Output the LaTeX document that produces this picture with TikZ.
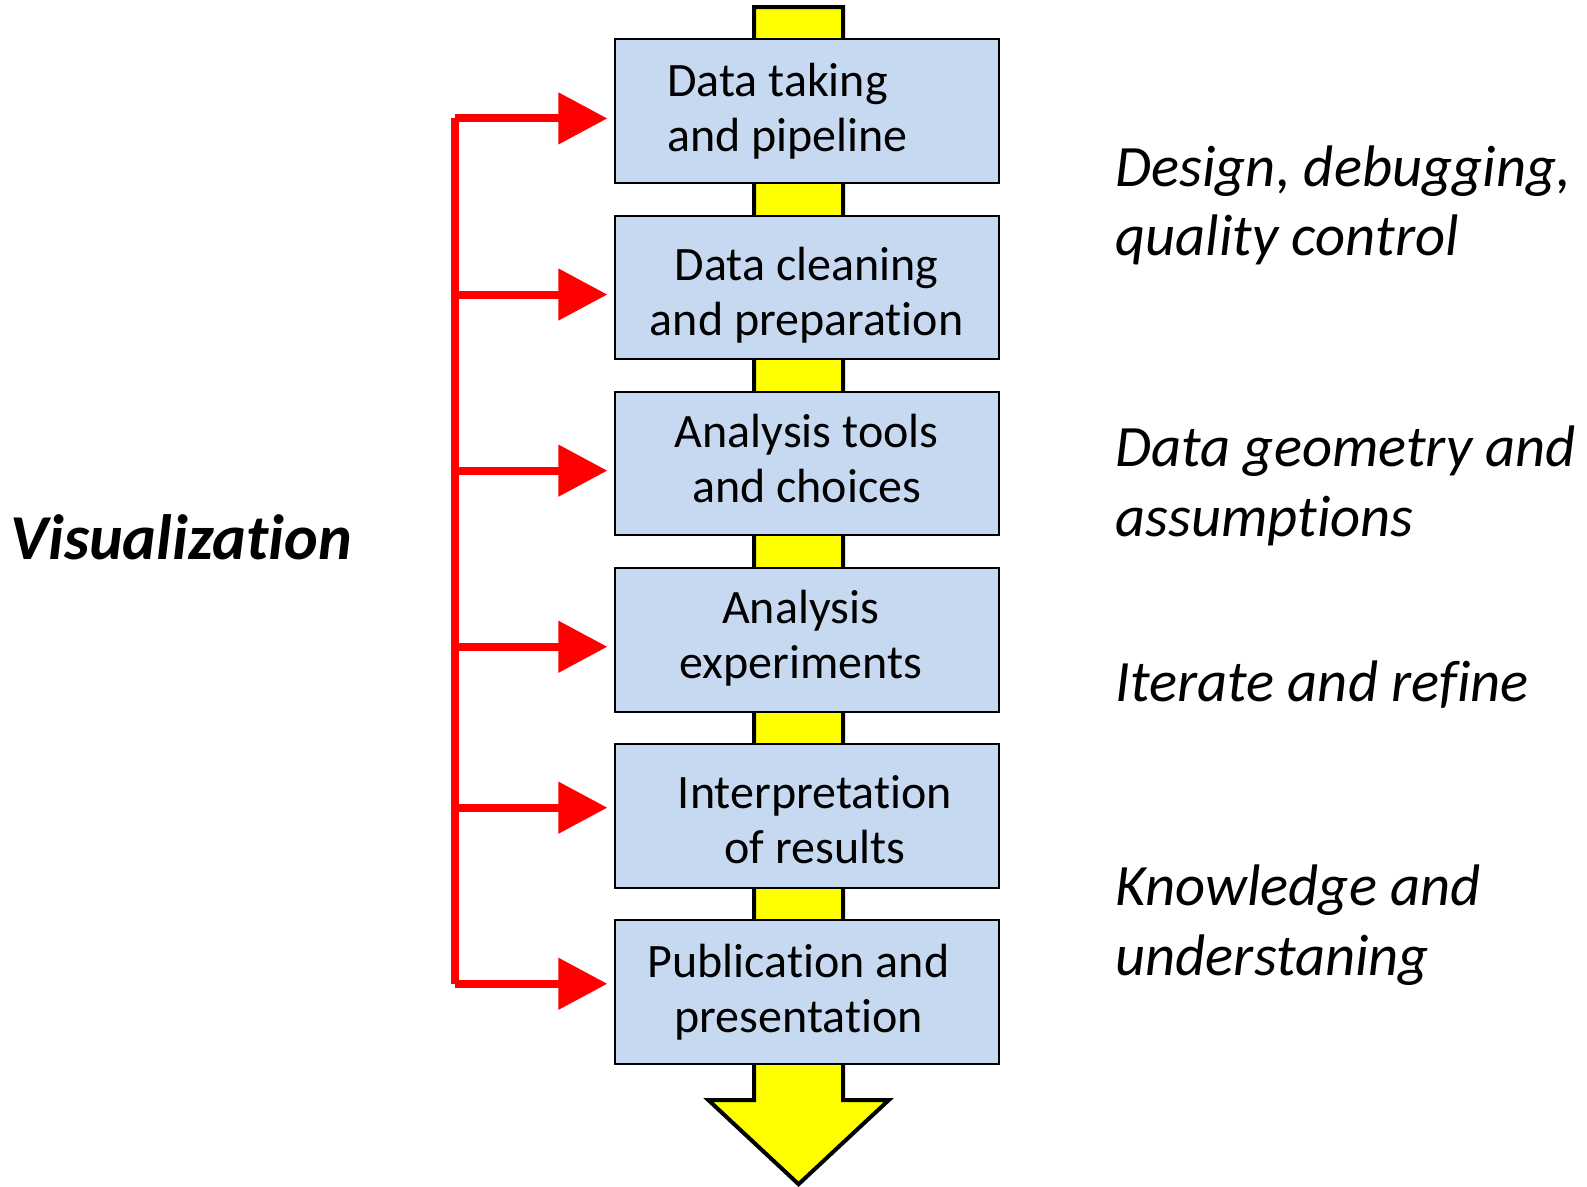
\documentclass[tikz,border=0pt]{standalone}
\usepackage{fontspec}
\setmainfont[Ligatures={NoCommon}]{Carlito}
\usetikzlibrary{arrows.meta}
\definecolor{boxblue}{RGB}{198,217,240}
\definecolor{arrowred}{RGB}{255,0,0}
\definecolor{flowyellow}{RGB}{255,255,0}
\tikzset{
  stepbox/.style={draw=black, line width=2pt, fill=boxblue, minimum width=383.6pt, minimum height=143.7pt, inner sep=0pt},
  boxtext/.style={inner sep=0pt, align=center, font=\fontsize{48}{55}\selectfont},
  sidetext/.style={inner sep=0pt, align=left, anchor=west, font=\fontsize{58.6}{69.5}\selectfont\itshape},
  redarrow/.style={draw=arrowred, line width=8pt, -{Triangle[length=49pt, width=50pt]}},
  redbus/.style={draw=arrowred, line width=8pt, line cap=square},
}
\begin{document}
\begin{tikzpicture}[x=1.0121pt, y=-1.0121pt]
\useasboundingbox (0,0) rectangle (1568,1172);
% yellow flow arrow
\draw[fill=flowyellow, line width=4pt, line join=miter] (745,7) -- (833,7) -- (833,1087) -- (878,1087) -- (789,1170) -- (700,1087) -- (745,1087) -- cycle;
% boxes
\node[stepbox] (b1) at (797.5,110) {};
\node[stepbox] (b2) at (797.5,284) {};
\node[stepbox] (b3) at (797.5,458) {};
\node[stepbox] (b4) at (797.5,632) {};
\node[stepbox] (b5) at (797.5,806) {};
\node[stepbox] (b6) at (797.5,980) {};
% box texts
\node[boxtext, anchor=west, align=left] (t1) at (659,110) {Data taking\\and pipeline};
\node[boxtext] (t2) at (797,292) {Data cleaning\\and preparation};
\node[boxtext] (t3) at (797,453) {Analysis tools\\and choices};
\node[boxtext] (t4) at (791,631) {Analysis\\experiments};
\node[boxtext] (t5) at (805,810) {Interpretation\\of results};
\node[boxtext] (t6) at (789,980) {Publication and\\presentation};
% red bus
\coordinate (r1) at (450,117);
\coordinate (r2) at (450,291);
\coordinate (r3) at (450,465);
\coordinate (r4) at (450,639);
\coordinate (r5) at (450,798);
\coordinate (r6) at (450,972);
\draw[redbus] (r1) -- (r6);
\draw[redarrow] (r1) -- ([xshift=-7pt]b1.west |- r1);
\draw[redarrow] (r2) -- ([xshift=-7pt]b2.west |- r2);
\draw[redarrow] (r3) -- ([xshift=-7pt]b3.west |- r3);
\draw[redarrow] (r4) -- ([xshift=-7pt]b4.west |- r4);
\draw[redarrow] (r5) -- ([xshift=-7pt]b5.west |- r5);
\draw[redarrow] (r6) -- ([xshift=-7pt]b6.west |- r6);
% left label
\node[inner sep=0pt, font=\fontsize{64}{70}\selectfont\bfseries\itshape] (vis) at (179,531) {Visualization};
% right texts
\node[sidetext] (s1) at (1102,203) {Design, debugging,\\quality control};
\node[sidetext] (s2) at (1102,480) {Data geometry and\\assumptions};
\node[sidetext] (s3) at (1102,676) {Iterate and refine};
\node[sidetext] (s4) at (1102,914) {Knowledge and\\understaning};
\end{tikzpicture}
\end{document}
